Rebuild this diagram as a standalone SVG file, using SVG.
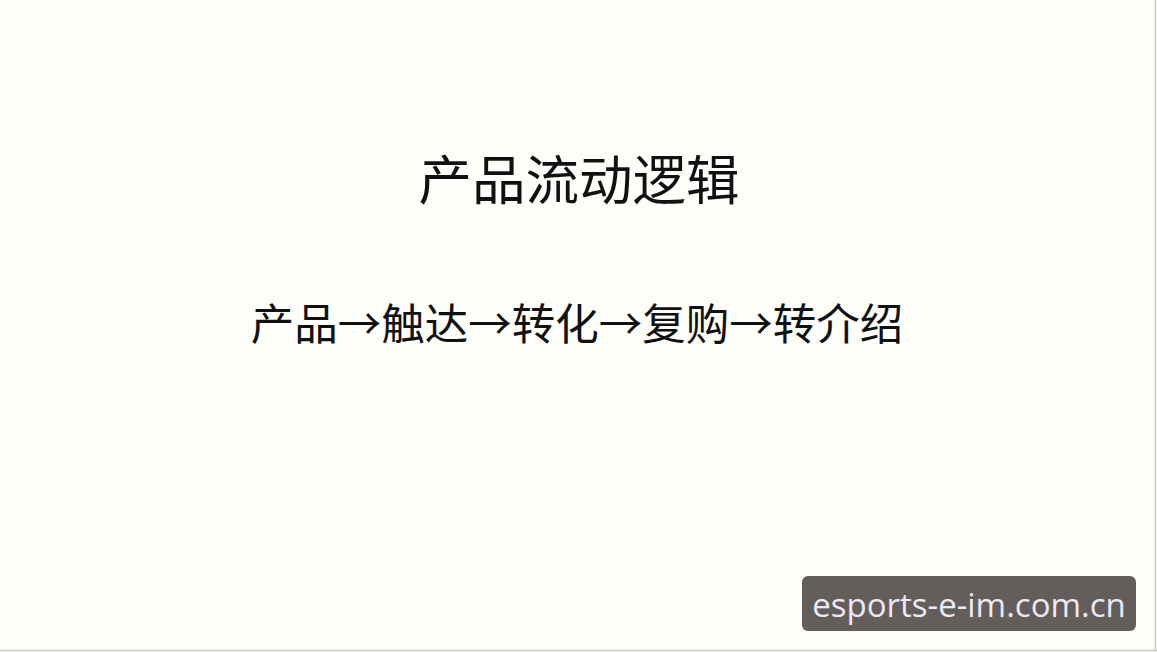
<svg xmlns="http://www.w3.org/2000/svg" width="1157" height="652" viewBox="0 0 1157 652">
<style>
.cjk{font-family:"Noto Sans CJK SC","Noto Sans CJK JP",sans-serif;fill:#111;text-anchor:middle}
</style>
<rect x="0" y="0" width="1157" height="652" fill="#fdfdf9"/>
<line x1="1155.5" y1="0" x2="1155.5" y2="651" stroke="#c8c8c8" stroke-width="1.5"/>
<line x1="0" y1="650.5" x2="1157" y2="650.5" stroke="#c8c8c8" stroke-width="1.5"/>
<g id="title"><text class="cjk" x="579" y="200" font-size="53.5">产品流动逻辑</text></g>
<g id="flow"><text class="cjk" x="577" y="340" font-size="43.5">产品→触达→转化→复购→转介绍</text></g>
<g id="watermark">
<rect x="802" y="576" width="334" height="55" rx="6" fill="#635d5b"/>
<text x="969" y="617" font-family="Open Sans, Noto Sans, sans-serif" font-size="33" fill="#ece8f6" text-anchor="middle">esports-e-im.com.cn</text>
</g>
</svg>
